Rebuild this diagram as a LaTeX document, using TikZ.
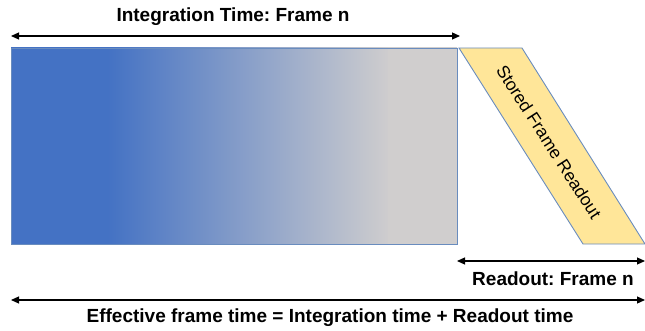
\documentclass[tikz,border=0pt]{standalone}
\usepackage{fontspec}
\setmainfont{Liberation Sans}
\frenchspacing
\usetikzlibrary{arrows.meta}
\definecolor{frameblue}{RGB}{68,114,196}
\definecolor{framegray}{RGB}{208,206,206}
\definecolor{edgeblue}{RGB}{105,140,190}
\definecolor{readyellow}{RGB}{255,230,153}
\tikzset{
  span/.style={line width=1.2pt,{Triangle[length=8pt,width=7pt]}-{Triangle[length=8pt,width=7pt]}},
  lbl/.style={font=\fontsize{19}{22}\selectfont\bfseries,inner sep=0pt},
  edge/.style={draw=edgeblue,line width=0.9pt}
}
\begin{document}
\begin{tikzpicture}[x=1pt,y=-1pt]
\useasboundingbox (0,0) rectangle (645,331);
% integration rectangle
\coordinate (rTL) at (11,48);
\coordinate (rBR) at (457,244);
\begin{scope}
\clip (rTL) rectangle (rBR);
\fill[frameblue] (0,40) rectangle (112,250);
\shade[left color=frameblue,right color=framegray] (108,40) rectangle (392,250);
\fill[framegray] (388,40) rectangle (470,250);
\end{scope}
\draw[edge] (rTL) rectangle (rBR);
% readout parallelogram
\coordinate (pA) at (459,48);
\coordinate (pB) at (522,48);
\coordinate (pC) at (645,244);
\coordinate (pD) at (583,244);
\filldraw[edge,fill=readyellow] (pA) -- (pB) -- (pC) -- (pD) -- cycle;
\node[font=\fontsize{17.5}{20}\selectfont,rotate=-57.2,inner sep=0pt] (stored) at (549,142) {Stored Frame Readout};
% arrows
\coordinate (t1) at (11,36);
\coordinate (t2) at (460,36);
\draw[span] (t1) -- (t2);
\node[lbl] (tlabel) at (233,17) {Integration Time: Frame n};
\coordinate (r1) at (457,261);
\coordinate (r2) at (645,261);
\draw[span] (r1) -- (r2);
\node[lbl] (rlabel) at (553,279) {Readout: Frame n};
\coordinate (b1) at (11,300);
\coordinate (b2) at (645,300);
\draw[span] (b1) -- (b2);
\node[lbl] (blabel) at (330,318) {Effective frame time = Integration time + Readout time};
\end{tikzpicture}
\end{document}
